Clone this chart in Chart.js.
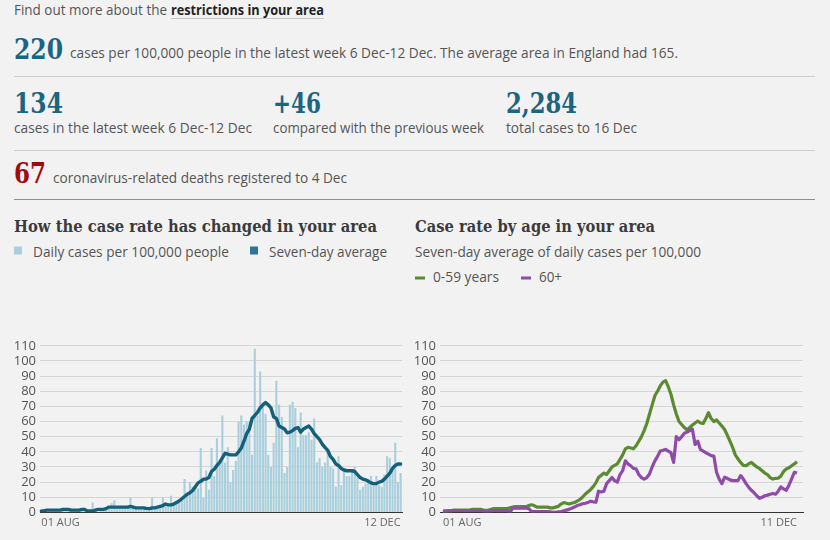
<!DOCTYPE html>
<html><head><meta charset="utf-8">
<script src="https://cdn.jsdelivr.net/npm/chart.js@4.4.1/dist/chart.umd.min.js"></script>
<style>
html,body{margin:0;padding:0;background:#f2f2f2;}
body{width:830px;height:540px;position:relative;overflow:hidden;}
svg.hdr{position:absolute;left:0;top:0;}
.cw{position:absolute;}
</style></head><body>
<svg class="hdr" width="830" height="300" font-family="Open Sans, sans-serif">
  <text x="14" y="15" font-size="14" fill="#555" textLength="153" lengthAdjust="spacingAndGlyphs">Find out more about the</text>
  <text x="171" y="15" font-size="14" font-weight="bold" fill="#222" textLength="153" lengthAdjust="spacingAndGlyphs">restrictions in your area</text>
  <line x1="171" y1="18.5" x2="324" y2="18.5" stroke="#c8c8c8" stroke-width="1"/>

  <text x="14" y="59" font-family="DejaVu Serif" font-weight="bold" font-size="27" fill="#1b6482" textLength="49" lengthAdjust="spacingAndGlyphs">220</text>
  <text x="70" y="57.5" font-size="14" fill="#555" textLength="608" lengthAdjust="spacingAndGlyphs">cases per 100,000 people in the latest week 6 Dec-12 Dec. The average area in England had 165.</text>
  <line x1="14" y1="76.5" x2="815" y2="76.5" stroke="#cfcfcf" stroke-width="1"/>

  <text x="14" y="113" font-family="DejaVu Serif" font-weight="bold" font-size="27" fill="#1b6482" textLength="49" lengthAdjust="spacingAndGlyphs">134</text>
  <text x="273" y="113" font-family="DejaVu Serif" font-weight="bold" font-size="27" fill="#1b6482" textLength="48" lengthAdjust="spacingAndGlyphs">+46</text>
  <text x="506" y="113" font-family="DejaVu Serif" font-weight="bold" font-size="27" fill="#1b6482" textLength="71" lengthAdjust="spacingAndGlyphs">2,284</text>
  <text x="14" y="132.5" font-size="14" fill="#555" textLength="238" lengthAdjust="spacingAndGlyphs">cases in the latest week 6 Dec-12 Dec</text>
  <text x="273" y="132.5" font-size="14" fill="#555" textLength="211" lengthAdjust="spacingAndGlyphs">compared with the previous week</text>
  <text x="506" y="132.5" font-size="14" fill="#555" textLength="131" lengthAdjust="spacingAndGlyphs">total cases to 16 Dec</text>
  <line x1="14" y1="150.5" x2="815" y2="150.5" stroke="#cfcfcf" stroke-width="1"/>

  <text x="14" y="182.5" font-family="DejaVu Serif" font-weight="bold" font-size="27" fill="#a00c0c" textLength="32" lengthAdjust="spacingAndGlyphs">67</text>
  <text x="53" y="182.5" font-size="14" fill="#555" textLength="294" lengthAdjust="spacingAndGlyphs">coronavirus-related deaths registered to 4 Dec</text>
  <line x1="14" y1="199.5" x2="815" y2="199.5" stroke="#8f8f8f" stroke-width="1"/>

  <text x="14" y="231.5" font-family="DejaVu Serif" font-weight="bold" font-size="16" fill="#3b3b3b" textLength="363" lengthAdjust="spacingAndGlyphs">How the case rate has changed in your area</text>
  <rect x="14" y="246.5" width="8" height="8" fill="#a9cfdc"/>
  <text x="33" y="257" font-size="14" fill="#555" textLength="196" lengthAdjust="spacingAndGlyphs">Daily cases per 100,000 people</text>
  <rect x="250" y="246.5" width="8" height="8" fill="#2c7693"/>
  <text x="269" y="257" font-size="14" fill="#555" textLength="118" lengthAdjust="spacingAndGlyphs">Seven-day average</text>

  <text x="415" y="231.5" font-family="DejaVu Serif" font-weight="bold" font-size="16" fill="#3b3b3b" textLength="240" lengthAdjust="spacingAndGlyphs">Case rate by age in your area</text>
  <text x="415" y="257" font-size="14" fill="#555" textLength="286" lengthAdjust="spacingAndGlyphs">Seven-day average of daily cases per 100,000</text>
  <rect x="415" y="276.5" width="10" height="3" fill="#5a8b30"/>
  <text x="433" y="281.5" font-size="14" fill="#555" textLength="66" lengthAdjust="spacingAndGlyphs">0-59 years</text>
  <rect x="521" y="276.5" width="10" height="3" fill="#8e4ba9"/>
  <text x="539" y="281.5" font-size="14" fill="#555" textLength="23" lengthAdjust="spacingAndGlyphs">60+</text>
</svg>

<div class="cw" style="left:0;top:334px;width:410px;height:206px"><canvas id="c1"></canvas></div>
<div class="cw" style="left:400px;top:334px;width:430px;height:206px"><canvas id="c2"></canvas></div>

<script>
// ---- Data ----
// Daily cases per 100,000 people, 1 Aug - 12 Dec
const dailyCases = [
  1,2,0,2,1,1,2,1,3,1, 2,2,1,2,1,2,3,1,0,6.5, 1,0,2,2,3,2,6,8,3,4,
  3,4,3,10,4,4,2,3,2,1, 3,10,2,3,5,10,4,6,11,5, 6,8,10,22,12,20,17,18,16,
  42.6,9.5,27.6,15,42.6,24,49,32,64,33, 43,20,28,34,60,64,58,60,60,38,
  108,64,93,70,65,38,30,46,87,71, 63,26,30,71,73,69,43,66,51,51,
  53,48,62,33,36,30,33,40,30,29, 17,37,18,27,24,24,27,30,23,15,
  17,19,22,24,20,24,18,17,25,37, 36,30,46,20,26
];
// Seven-day average, 1 Aug - 12 Dec
const sevenDayAvg = [
  1,1,1.5,1.5,1.5,1.5,1.5,1.5,2,2, 2,1.5,1.5,1.5,1.5,2,2,1,1,1,
  1.5,2,2,2,2.5,3.5,3.5,3.5,3.5,3.5, 3.5,3.5,3.5,4,3.5,3,3,3,3,2.5,
  2.5,3,3,3.5,4,4.5,5.5,5,5,5.5, 6.5,7.5,9,10.5,12,13,14.5,17,19.5,20.5,
  22,22,23,27,28.5,31,33,36,39,38.5, 38,38,38,40,42.5,47,52,55,62,64,
  66,69,71,72.5,71,69,63,62,57,56, 55,52.5,53,54,55.5,56,53,55,56,57,
  55,52,50,48,45,43,41,37,35,32, 31,29,28,27.5,27.5,27.5,27,25,23,22,
  21.5,20.5,19.5,19,19,20,20.5,22,24,26, 29,31,32,32
];
// Seven-day average by age, 1 Aug - 11 Dec
const age0to59 = [
  1,1,1,1,1.5,1.5,1.5,1.5,1.5,1.5, 1.5,2,2,2,2,1.5,1.3,1.5,2,2.5,
  2.5,2.5,2.5,2.5,2.5,3,3.5,3.8,3.8,3.8, 3.8,3.8,4.5,5,4.5,3.5,3.5,3.5,3.5,3.5,
  3,3,3.5,4,5.5,6.5,6,5.5,6,6.5, 7.5,8.5,10,12,13.5,15,17,19.5,23,24.5,
  26,25,27.5,30,31,32,35,38,42,43, 42.5,42,44,47,50,54,58.7,65,71,77,
  80,83.5,86,87,83,78,71,65,60,58, 56,54.5,56,57.7,59,60.3,59,58.7,62,65.8,
  62,60,61,59,57,54.7,51,47,43,38, 35.3,33,31,30.8,32,33,31.5,30,29,27.5,
  26,25,23,22,22.5,22.6,24,27,28.7,29.5, 30.8,32,33.4
];
const age60plus = [
  0,0.5,1,1.2,1.2,1.2,1.2,1.2,1.2,1.2, 1.2,1.2,1.2,1.2,1.2,1,0.6,0.6,1,1.2,
  1.2,1.2,1.2,1.2,1.2,0,2.8,2.8,2.8,2.8, 2.8,2.8,2.5,0.6,0.6,0.6,0.6,0.6,0.6,0.6,
  0.3,0,0,0.3,0.6,1,1.5,2,2.8,3.5, 4.5,5,5.7,6,6.5,7.4,7,6.7,14,13.5,
  14,19,21,23,21,20,25,27.6,34,32, 30.8,29,28.7,25,23,22,23,25.4,30,34,
  37,40.5,41,41.6,40.5,39.4,33,50,48,50, 52.3,53,54,54.9,44.8,47,41.6,40.5,39.4,38.5,
  37.5,37.2,26.5,22,19,23.2,22.5,21.5,21,21, 21,24.3,22,19,16.5,14.6,13,11,9.3,10,
  11,11.4,12,12.5,12,14,16.8,15.5,14.6,18, 22.2,26.5,26
];
const leftTickLabels = ['01 AUG', '12 DEC'];
const rightTickLabels = ['01 AUG', '11 DEC'];
const yMax = 110;
const yStep = 10;

// category labels (dates) for the daily chart
const dayLabels = [];
{
  const d = new Date(2020, 7, 1);
  for (let i = 0; i < dailyCases.length; i++) {
    dayLabels.push(d.toDateString());
    d.setDate(d.getDate() + 1);
  }
}

const tickFont = {family: 'Open Sans', size: 13};
const xFont = {family: 'Open Sans', size: 11};
const gridColor = '#d6d6d6';

function yScale() {
  return {
    min: 0, max: yMax,
    ticks: {stepSize: yStep, color: '#555', font: tickFont, padding: 4,
            autoSkip: false, maxTicksLimit: 50},
    grid: {color: gridColor, lineWidth: 1, drawTicks: false},
    border: {display: false},
    afterFit: s => { s.width = 40; }
  };
}

new Chart(document.getElementById('c1'), {
  type: 'bar',
  data: {
    labels: dayLabels,
    datasets: [
      {type: 'line', data: sevenDayAvg, borderColor: '#14607a', borderWidth: 3.4,
       pointRadius: 0, tension: 0, order: 0, borderJoinStyle: 'round', borderCapStyle: 'round'},
      {type: 'bar', data: dailyCases, backgroundColor: '#a9cfdc',
       barPercentage: 0.78, categoryPercentage: 1, order: 1}
    ]
  },
  options: {
    responsive: true, maintainAspectRatio: false, animation: false,
    layout: {padding: {top: 8, right: 8, left: 0, bottom: 0}},
    plugins: {legend: {display: false}, tooltip: {enabled: false}},
    scales: {
      x: {
        offset: true,
        grid: {display: false, drawTicks: false},
        border: {display: true, color: '#333', width: 1},
        afterBuildTicks: s => { const t = s.ticks; s.ticks = [t[0], t[t.length - 1]]; },
        ticks: {autoSkip: false, maxRotation: 0, align: 'inner', color: '#666', font: xFont, padding: 4,
          callback: (v, i) => leftTickLabels[i]},
        afterFit: s => { s.height = 27.6; }
      },
      y: yScale()
    }
  }
});

const nR = age0to59.length;
new Chart(document.getElementById('c2'), {
  type: 'line',
  data: {
    datasets: [
      {label: '60+', data: age60plus.map((v, i) => ({x: i, y: v})), borderColor: '#8e4ba9',
       borderWidth: 3.2, pointRadius: 0, tension: 0, order: 0, borderJoinStyle: 'round'},
      {label: '0-59 years', data: age0to59.map((v, i) => ({x: i, y: v})), borderColor: '#5a8b30',
       borderWidth: 3.2, pointRadius: 0, tension: 0, order: 1, borderJoinStyle: 'round'}
    ]
  },
  options: {
    responsive: true, maintainAspectRatio: false, animation: false,
    layout: {padding: {top: 8, right: 27, left: 0, bottom: 0}},
    plugins: {legend: {display: false}, tooltip: {enabled: false}},
    scales: {
      x: {
        type: 'linear', min: -1.119, max: 134.24,
        grid: {display: false, drawTicks: false},
        border: {display: true, color: '#333', width: 1},
        afterBuildTicks: s => { s.ticks = [{value: 0}, {value: nR - 1}]; },
        ticks: {autoSkip: false, maxRotation: 0, align: 'inner', color: '#666', font: xFont, padding: 4,
          callback: (v, i) => rightTickLabels[i]},
        afterFit: s => { s.height = 27.6; }
      },
      y: yScale()
    }
  }
});
</script>
</body></html>
